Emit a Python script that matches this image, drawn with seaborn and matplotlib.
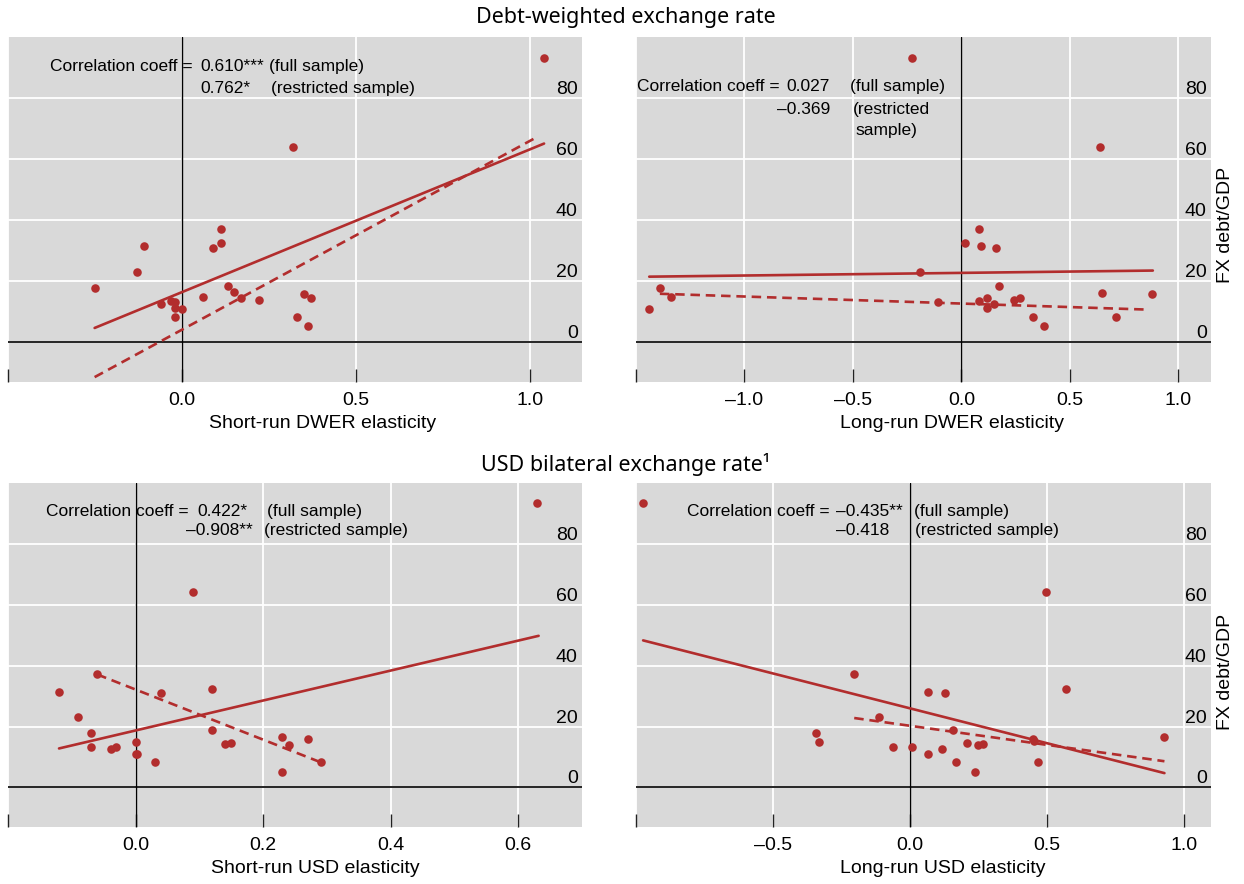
import matplotlib.pyplot as plt
import numpy as np
import pandas as pd
import seaborn as sns

# FX debt/GDP (y) against exchange rate elasticities (x), one pair per panel
dwer_sr_x = [1.041, 0.320, 0.112, 0.112, 0.090, -0.109, -0.130, -0.251, 0.131, 0.150, 0.170, 0.060,
             0.221, 0.351, 0.371, -0.059, -0.032, -0.020, -0.020, 0.000, -0.019, 0.330, 0.361]
dwer_sr_y = [93.2, 64.1, 37.1, 32.5, 30.8, 31.5, 23.0, 17.8, 18.6, 16.5, 14.5, 14.9,
             14.0, 15.9, 14.4, 12.5, 13.6, 13.3, 11.1, 11.0, 8.4, 8.3, 5.2]

dwer_lr_x = [-0.230, 0.640, 0.079, 0.018, 0.090, 0.160, -0.189, -1.390, 0.171, 0.649, 0.879, -1.340,
             0.119, 0.270, 0.241, -0.110, 0.079, 0.151, -1.439, 0.119, 0.331, 0.710, 0.381]
dwer_lr_y = [93.2, 64.1, 37.1, 32.5, 31.5, 30.8, 23.0, 17.8, 18.6, 16.3, 15.9, 14.9,
             14.5, 14.4, 14.0, 13.3, 13.6, 12.5, 11.0, 11.1, 8.4, 8.3, 5.2]

usd_sr_x = [0.630, 0.090, -0.060, 0.120, -0.120, 0.040, -0.090, -0.070, 0.120, 0.230, 0.270, 0.140,
            0.150, 0.000, 0.240, -0.030, -0.039, -0.070, 0.000, 0.002, 0.030, 0.291, 0.230]
usd_sr_y = [93.3, 64.1, 37.1, 32.4, 31.5, 30.9, 23.0, 17.8, 18.7, 16.4, 15.9, 14.4,
            14.5, 14.8, 13.9, 13.3, 12.7, 13.4, 11.1, 11.0, 8.4, 8.2, 5.1]

usd_lr_x = [-0.974, 0.498, -0.203, 0.569, 0.067, 0.128, -0.112, -0.343, 0.159, 0.450, 0.930, -0.331,
            0.209, 0.267, 0.452, 0.250, 0.007, -0.063, 0.118, 0.067, 0.168, 0.467, 0.239]
usd_lr_y = [93.3, 64.1, 37.1, 32.4, 31.5, 30.9, 23.0, 17.8, 18.7, 16.0, 16.4, 14.8,
            14.5, 14.4, 15.3, 13.9, 13.4, 13.3, 12.7, 11.1, 8.2, 8.2, 5.1]

# fitted lines (end points): full sample / restricted sample
fit_full_x = [[-0.251, 1.041], [-1.439, 0.882], [-0.120, 0.632], [-0.974, 0.930]]
fit_full_y = [[4.7, 65.1], [21.5, 23.5], [12.8, 49.8], [48.3, 4.7]]
fit_restr_x = [[-0.251, 1.025], [-1.390, 0.864], [-0.060, 0.291], [-0.203, 0.930]]
fit_restr_y = [[-11.4, 67.5], [15.9, 10.7], [37.1, 8.2], [22.8, 8.6]]

x_labels = ['Short-run DWER elasticity', 'Long-run DWER elasticity',
            'Short-run USD elasticity', 'Long-run USD elasticity']
x_ticks = [[-0.5, 0.0, 0.5, 1.0], [-1.5, -1.0, -0.5, 0.0, 0.5, 1.0],
           [-0.2, 0.0, 0.2, 0.4, 0.6], [-1.0, -0.5, 0.0, 0.5, 1.0]]
x_ticklabels = [['', '0.0', '0.5', '1.0'], ['', '–1.0', '–0.5', '0.0', '0.5', '1.0'],
                ['', '0.0', '0.2', '0.4', '0.6'], ['', '–0.5', '0.0', '0.5', '1.0']]
x_lims = [(-0.5, 1.15), (-1.5, 1.15), (-0.2, 0.7), (-1.0, 1.1)]
y_ticks = [0, 20, 40, 60, 80]

corr_full = ['0.610***', '0.027', '0.422*', '–0.435**']
corr_restr = ['0.762*', '–0.369', '–0.908**', '–0.418']

titles = ['Debt-weighted exchange rate', 'USD bilateral exchange rate¹']

red = '#B22D2D'
bg = '#D9D9D9'

sns.set_theme(style='darkgrid', rc={'axes.facecolor': bg, 'grid.color': 'white',
                                    'grid.linewidth': 1.3, 'text.color': 'black',
                                    'xtick.color': 'black', 'ytick.color': 'black',
                                    'axes.labelcolor': 'black'})
plt.rcParams['font.family'] = ['Liberation Sans', 'DejaVu Sans']

fig = plt.figure(figsize=(12.44, 8.84), dpi=100)
rects = [[0.00643, 0.56787, 0.46141, 0.39027], [0.51125, 0.56787, 0.46222, 0.39027],
         [0.00643, 0.06448, 0.46141, 0.38914], [0.51125, 0.06448, 0.46222, 0.38914]]
data = [(dwer_sr_x, dwer_sr_y), (dwer_lr_x, dwer_lr_y), (usd_sr_x, usd_sr_y), (usd_lr_x, usd_lr_y)]

axes = []
for i in range(4):
    ax = fig.add_axes(rects[i])
    axes.append(ax)
    ax.set_axisbelow(True)
    ax.axhline(0, color='black', lw=1.2, zorder=1.5)
    ax.axvline(0, color='black', lw=1.0, zorder=1.5)

    sns.lineplot(x=fit_full_x[i], y=fit_full_y[i], ax=ax, color=red, linewidth=1.9, zorder=3)
    sns.lineplot(x=fit_restr_x[i], y=fit_restr_y[i], ax=ax, color=red, linewidth=1.9,
                 linestyle=(0, (3.6, 2.2)), zorder=3)
    df = pd.DataFrame({'x': data[i][0], 'y': data[i][1]})
    sns.scatterplot(data=df, x='x', y='y', ax=ax, color=red, s=38, linewidth=0, zorder=4)

    ax.set_xlim(x_lims[i])
    ax.set_ylim(-13, 100)
    ax.set_xticks(x_ticks[i], labels=x_ticklabels[i])
    ax.set_yticks(y_ticks, labels=[str(v) for v in y_ticks])
    ax.yaxis.tick_right()
    ax.tick_params(axis='x', direction='in', bottom=True, length=9.5, width=1.0,
                   color='#222222', labelcolor='black', pad=7, labelsize=14)
    ax.tick_params(axis='y', length=0, pad=-3, labelsize=14, labelcolor='black')
    for lab in ax.get_yticklabels():
        lab.set_ha('right')
        lab.set_va('bottom')
    for sp in ax.spines.values():
        sp.set_visible(False)

    ax.set_xlabel(x_labels[i], fontsize=14, color='black')
    ax.set_ylabel('')
    lx = [0.548, 0.5496, 0.536, 0.534][i]
    ax.xaxis.set_label_coords(lx, -0.097)

# correlation annotations (axes coords)
fs = 12.5
kw = dict(fontsize=fs, va='center', color='black')
a = axes[0]
a.text(0.3223, 0.914, 'Correlation coeff =', ha='right', transform=a.transAxes, **kw)
a.text(0.3357, 0.914, corr_full[0], ha='left', transform=a.transAxes, **kw)
a.text(0.4552, 0.914, '(full sample)', ha='left', transform=a.transAxes, **kw)
a.text(0.3357, 0.852, corr_restr[0], ha='left', transform=a.transAxes, **kw)
a.text(0.4577, 0.852, '(restricted sample)', ha='left', transform=a.transAxes, **kw)

a = axes[1]
a.text(0.2504, 0.856, 'Correlation coeff =', ha='right', transform=a.transAxes, **kw)
a.text(0.3374, 0.856, corr_full[1], ha='right', transform=a.transAxes, **kw)
a.text(0.3722, 0.856, '(full sample)', ha='left', transform=a.transAxes, **kw)
a.text(0.3374, 0.790, corr_restr[1], ha='right', transform=a.transAxes, **kw)
a.text(0.3769, 0.790, '(restricted', ha='left', transform=a.transAxes, **kw)
a.text(0.3814, 0.728, 'sample)', ha='left', transform=a.transAxes, **kw)

a = axes[2]
a.text(0.315, 0.9166, 'Correlation coeff =', ha='right', transform=a.transAxes, **kw)
a.text(0.330, 0.9166, corr_full[2], ha='left', transform=a.transAxes, **kw)
a.text(0.451, 0.9166, '(full sample)', ha='left', transform=a.transAxes, **kw)
a.text(0.4268, 0.8605, corr_restr[2], ha='right', transform=a.transAxes, **kw)
a.text(0.446, 0.8605, '(restricted sample)', ha='left', transform=a.transAxes, **kw)

a = axes[3]
a.text(0.336, 0.9166, 'Correlation coeff =', ha='right', transform=a.transAxes, **kw)
a.text(0.3485, 0.9166, corr_full[3], ha='left', transform=a.transAxes, **kw)
a.text(0.4838, 0.9166, '(full sample)', ha='left', transform=a.transAxes, **kw)
a.text(0.3485, 0.8605, corr_restr[3], ha='left', transform=a.transAxes, **kw)
a.text(0.485, 0.8605, '(restricted sample)', ha='left', transform=a.transAxes, **kw)

# right-hand axis titles
fig.text(1226 / 1244, 1 - 225 / 884, 'FX debt/GDP', rotation=90, ha='center', va='center', fontsize=14)
fig.text(1226 / 1244, 1 - 672 / 884, 'FX debt/GDP', rotation=90, ha='center', va='center', fontsize=14)

# panel group titles
fig.text(626 / 1244, 1 - 18 / 884, titles[0], ha='center', va='center', fontsize=15.5,
         family=['Noto Sans', 'DejaVu Sans'])
fig.text(626 / 1244, 1 - 465 / 884, titles[1], ha='center', va='center', fontsize=15.5,
         family=['Noto Sans', 'DejaVu Sans'])

fig.savefig('out.png', dpi=100)
